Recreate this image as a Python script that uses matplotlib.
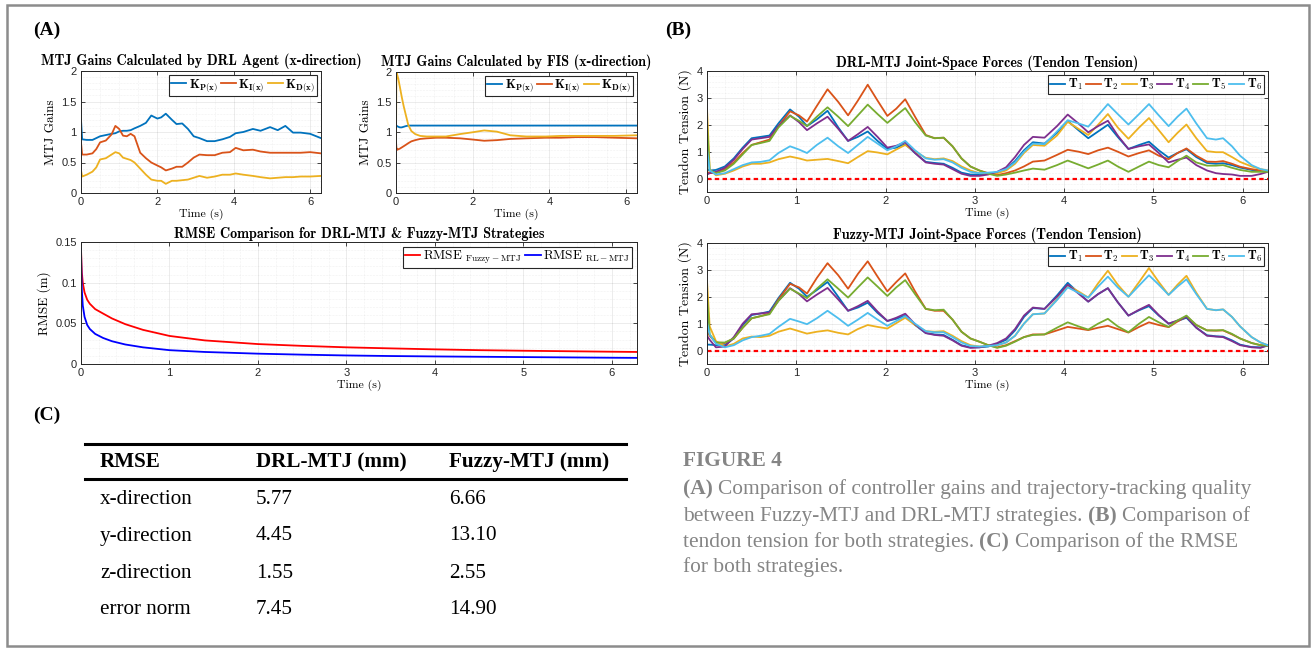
import numpy as np
import matplotlib
matplotlib.use("Agg")
import matplotlib.pyplot as plt
from matplotlib.ticker import MultipleLocator

plt.rcParams['font.family'] = ['Liberation Sans', 'DejaVu Sans']
plt.rcParams['mathtext.fontset'] = 'cm'

# ---------------- data ----------------
# (A) gains, DRL agent
t_gain_drl = [0, 0.03, 0.15, 0.3, 0.4, 0.5, 0.65, 0.8, 0.9, 1.0,
              1.1, 1.2, 1.3, 1.4, 1.55, 1.7, 1.84, 2.0, 2.1, 2.22,
              2.38, 2.5, 2.65, 2.8, 2.95, 3.1, 3.3, 3.5, 3.7, 3.9,
              4.05, 4.25, 4.5, 4.7, 4.95, 5.15, 5.35, 5.55, 5.75, 6.0, 6.28]
kp_drl = [1.2, 0.88, 0.87, 0.87, 0.9, 0.93, 0.95, 0.97, 0.98, 1.01,
          1.02, 1.02, 1.03, 1.06, 1.1, 1.15, 1.27, 1.22, 1.24, 1.3,
          1.2, 1.13, 1.14, 1.05, 0.93, 0.9, 0.85, 0.85, 0.88, 0.92,
          0.98, 1.0, 1.05, 1.02, 1.08, 1.03, 1.1, 0.99, 0.99, 0.97, 0.9]
ki_drl = [0.83, 0.63, 0.63, 0.65, 0.72, 0.83, 0.86, 0.96, 1.1, 1.05,
          0.94, 0.93, 0.97, 0.93, 0.66, 0.57, 0.5, 0.45, 0.42, 0.37,
          0.4, 0.43, 0.43, 0.5, 0.58, 0.63, 0.62, 0.62, 0.66, 0.67,
          0.74, 0.7, 0.71, 0.68, 0.66, 0.66, 0.66, 0.66, 0.66, 0.67, 0.65]
kd_drl = [0.37, 0.27, 0.3, 0.35, 0.42, 0.55, 0.57, 0.63, 0.67, 0.65,
          0.58, 0.56, 0.54, 0.5, 0.4, 0.3, 0.22, 0.2, 0.2, 0.15,
          0.2, 0.2, 0.21, 0.22, 0.25, 0.28, 0.25, 0.27, 0.3, 0.3,
          0.32, 0.3, 0.28, 0.26, 0.24, 0.25, 0.26, 0.26, 0.27, 0.27, 0.28]

# (A) gains, FIS
t_gain_fis = [0, 0.01, 0.03, 0.06, 0.1, 0.15, 0.2, 0.25, 0.32, 0.4,
              0.5, 0.63, 0.8, 1.05, 1.3, 1.67, 2.0, 2.3, 2.63, 2.98,
              3.4, 3.9, 4.3, 4.7, 5.2, 5.7, 6.28]
kp_fis = [1.12, 1.11, 1.1, 1.09, 1.08, 1.08, 1.09, 1.1, 1.11, 1.11,
          1.11, 1.11, 1.11, 1.11, 1.11, 1.11, 1.11, 1.11, 1.11, 1.11,
          1.11, 1.11, 1.11, 1.11, 1.11, 1.11, 1.11]
ki_fis = [0.85, 0.75, 0.71, 0.72, 0.73, 0.75, 0.77, 0.79, 0.82, 0.85,
          0.87, 0.89, 0.9, 0.91, 0.91, 0.9, 0.88, 0.86, 0.87, 0.89,
          0.9, 0.91, 0.91, 0.92, 0.92, 0.91, 0.9]
kd_fis = [0.85, 1.98, 1.95, 1.88, 1.75, 1.58, 1.43, 1.3, 1.12, 1.02,
          0.97, 0.94, 0.93, 0.93, 0.93, 0.97, 1.0, 1.03, 1.01, 0.95,
          0.93, 0.93, 0.94, 0.94, 0.94, 0.94, 0.95]

# (A) RMSE
t_rmse = [0, 0.005, 0.01, 0.02, 0.04, 0.07, 0.1, 0.16, 0.25, 0.35,
          0.5, 0.7, 1.0, 1.4, 2.0, 2.5, 3.0, 3.5, 4.0, 4.5,
          5.0, 5.5, 6.0, 6.28]
rmse_fuzzy = [0.142, 0.125, 0.112, 0.1, 0.088, 0.079, 0.074, 0.0675, 0.062, 0.056,
              0.049, 0.042, 0.0345, 0.029, 0.0245, 0.0223, 0.0205, 0.0192, 0.018, 0.017,
              0.0163, 0.0157, 0.0151, 0.0148]
rmse_rl = [0.142, 0.11, 0.09, 0.072, 0.058, 0.048, 0.043, 0.037, 0.032, 0.028,
           0.024, 0.0205, 0.017, 0.0148, 0.0127, 0.0115, 0.0105, 0.0098, 0.0093, 0.0089,
           0.0085, 0.0081, 0.0077, 0.0075]

# (B) tendon tensions
t_force = [0, 0.03, 0.1, 0.2, 0.3, 0.4, 0.5, 0.6, 0.7, 0.8,
           0.93, 1.03, 1.12, 1.23, 1.35, 1.47, 1.58, 1.69, 1.8, 1.91,
           2.02, 2.12, 2.22, 2.33, 2.45, 2.55, 2.65, 2.75, 2.85, 2.95,
           3.05, 3.15, 3.25, 3.35, 3.45, 3.55, 3.65, 3.78, 3.92, 4.04,
           4.16, 4.27, 4.38, 4.49, 4.6, 4.72, 4.84, 4.95, 5.06, 5.17,
           5.27, 5.37, 5.48, 5.6, 5.7, 5.78, 5.88, 5.97, 6.1, 6.2, 6.28]

drl_T1 = [0.35, 0.3, 0.32, 0.45, 0.75, 1.15, 1.5, 1.55, 1.6, 2.05,
          2.57, 2.3, 1.95, 2.2, 2.52, 1.9, 1.4, 1.55, 1.75, 1.4,
          1.1, 1.15, 1.28, 0.95, 0.62, 0.58, 0.55, 0.4, 0.22, 0.15,
          0.15, 0.18, 0.22, 0.35, 0.65, 1.05, 1.35, 1.3, 1.7, 2.14,
          1.8, 1.5, 1.75, 2.0, 1.55, 1.1, 1.25, 1.37, 1.05, 0.78,
          0.95, 1.09, 0.8, 0.58, 0.55, 0.57, 0.5, 0.41, 0.32, 0.28, 0.28]
drl_T2 = [0.25, 0.2, 0.22, 0.35, 0.6, 0.95, 1.25, 1.35, 1.45, 1.95,
          2.5, 2.35, 2.12, 2.7, 3.32, 2.85, 2.35, 2.9, 3.49, 2.9,
          2.33, 2.6, 2.95, 2.3, 1.62, 1.5, 1.52, 1.2, 0.75, 0.45,
          0.3, 0.2, 0.13, 0.2, 0.3, 0.45, 0.63, 0.67, 0.88, 1.07,
          1.0, 0.91, 1.05, 1.15, 1.0, 0.82, 0.95, 1.05, 0.85, 0.72,
          0.95, 1.12, 0.85, 0.63, 0.62, 0.65, 0.55, 0.44, 0.35, 0.3, 0.28]
drl_T3 = [2.6, 0.35, 0.12, 0.18, 0.3, 0.45, 0.55, 0.55, 0.6, 0.72,
          0.82, 0.75, 0.67, 0.7, 0.73, 0.65, 0.57, 0.8, 1.02, 0.97,
          0.9, 1.08, 1.25, 1.0, 0.77, 0.72, 0.75, 0.65, 0.45, 0.3,
          0.2, 0.18, 0.2, 0.3, 0.55, 0.95, 1.25, 1.22, 1.6, 2.11,
          1.85, 1.62, 2.0, 2.4, 1.9, 1.48, 1.9, 2.25, 1.8, 1.35,
          1.7, 2.01, 1.5, 1.02, 0.98, 0.98, 0.8, 0.62, 0.45, 0.35, 0.3]
drl_T4 = [0.15, 0.2, 0.25, 0.4, 0.7, 1.1, 1.45, 1.5, 1.55, 1.95,
          2.35, 2.1, 1.8, 2.05, 2.3, 1.85, 1.4, 1.65, 1.92, 1.55,
          1.15, 1.22, 1.35, 0.95, 0.6, 0.55, 0.52, 0.35, 0.18, 0.1,
          0.1, 0.15, 0.25, 0.42, 0.8, 1.25, 1.55, 1.52, 1.95, 2.38,
          2.05, 1.72, 1.95, 2.15, 1.6, 1.1, 1.2, 1.27, 0.95, 0.6,
          0.7, 0.78, 0.5, 0.3, 0.2, 0.17, 0.15, 0.1, 0.1, 0.17, 0.25]
drl_T5 = [2.05, 0.3, 0.2, 0.3, 0.55, 0.9, 1.25, 1.32, 1.4, 1.9,
          2.33, 2.15, 1.95, 2.3, 2.65, 2.3, 1.95, 2.35, 2.75, 2.4,
          2.07, 2.35, 2.62, 2.1, 1.6, 1.5, 1.52, 1.2, 0.75, 0.45,
          0.3, 0.18, 0.1, 0.15, 0.22, 0.3, 0.37, 0.33, 0.5, 0.67,
          0.52, 0.38, 0.52, 0.67, 0.45, 0.25, 0.45, 0.63, 0.5, 0.42,
          0.65, 0.85, 0.6, 0.48, 0.48, 0.5, 0.4, 0.32, 0.25, 0.25, 0.25]
drl_T6 = [1.1, 0.3, 0.15, 0.2, 0.35, 0.5, 0.6, 0.62, 0.68, 0.95,
          1.2, 1.08, 0.95, 1.25, 1.52, 1.2, 0.95, 1.25, 1.55, 1.3,
          1.05, 1.2, 1.4, 1.05, 0.75, 0.7, 0.72, 0.6, 0.4, 0.25,
          0.2, 0.22, 0.25, 0.35, 0.6, 1.0, 1.3, 1.28, 1.75, 2.17,
          2.05, 1.93, 2.35, 2.77, 2.4, 2.01, 2.4, 2.77, 2.35, 1.95,
          2.3, 2.6, 2.05, 1.5, 1.45, 1.5, 1.2, 0.85, 0.5, 0.35, 0.3]

fuzzy_T1 = [0.22, 0.22, 0.2, 0.2, 0.45, 0.95, 1.32, 1.38, 1.45, 1.95,
            2.52, 2.3, 2.0, 2.25, 2.55, 2.0, 1.48, 1.6, 1.78, 1.4,
            1.1, 1.18, 1.3, 0.95, 0.65, 0.6, 0.58, 0.4, 0.2, 0.12,
            0.12, 0.15, 0.25, 0.4, 0.75, 1.25, 1.58, 1.55, 2.05, 2.52,
            2.15, 1.82, 2.1, 2.32, 1.8, 1.3, 1.5, 1.65, 1.3, 1.0,
            1.1, 1.22, 0.85, 0.57, 0.53, 0.52, 0.38, 0.22, 0.13, 0.12, 0.18]
fuzzy_T2 = [0.7, 0.55, 0.3, 0.28, 0.45, 0.85, 1.2, 1.28, 1.38, 1.9,
            2.48, 2.35, 2.12, 2.7, 3.25, 2.8, 2.3, 2.85, 3.32, 2.75,
            2.2, 2.55, 2.87, 2.2, 1.55, 1.48, 1.48, 1.15, 0.7, 0.45,
            0.33, 0.2, 0.12, 0.2, 0.35, 0.5, 0.6, 0.6, 0.75, 0.88,
            0.82, 0.76, 0.85, 0.92, 0.8, 0.67, 0.88, 1.05, 0.95, 0.87,
            1.08, 1.27, 0.95, 0.75, 0.74, 0.75, 0.6, 0.45, 0.28, 0.2, 0.18]
fuzzy_T3 = [2.6, 0.9, 0.35, 0.15, 0.25, 0.45, 0.52, 0.5, 0.55, 0.7,
            0.82, 0.72, 0.63, 0.7, 0.75, 0.66, 0.6, 0.8, 0.95, 0.88,
            0.82, 1.02, 1.22, 0.95, 0.72, 0.7, 0.72, 0.55, 0.35, 0.2,
            0.15, 0.17, 0.2, 0.3, 0.55, 1.0, 1.35, 1.38, 1.9, 2.42,
            2.2, 1.97, 2.5, 2.97, 2.45, 2.0, 2.55, 3.07, 2.55, 2.07,
            2.45, 2.78, 2.15, 1.55, 1.5, 1.53, 1.25, 0.9, 0.5, 0.3, 0.2]
fuzzy_T4 = [0.55, 0.4, 0.12, 0.15, 0.5, 1.0, 1.35, 1.38, 1.42, 1.85,
            2.32, 2.1, 1.83, 2.08, 2.33, 1.9, 1.48, 1.65, 1.85, 1.45,
            1.1, 1.22, 1.37, 0.98, 0.65, 0.58, 0.55, 0.38, 0.18, 0.1,
            0.12, 0.18, 0.28, 0.45, 0.8, 1.3, 1.6, 1.55, 2.0, 2.45,
            2.12, 1.82, 2.1, 2.32, 1.8, 1.3, 1.52, 1.7, 1.32, 1.0,
            1.12, 1.25, 0.85, 0.55, 0.52, 0.5, 0.35, 0.2, 0.12, 0.1, 0.2]
fuzzy_T5 = [2.05, 0.6, 0.3, 0.3, 0.45, 0.85, 1.2, 1.28, 1.35, 1.85,
            2.3, 2.12, 1.95, 2.3, 2.65, 2.3, 1.97, 2.35, 2.72, 2.38,
            2.03, 2.35, 2.62, 2.1, 1.55, 1.5, 1.52, 1.15, 0.7, 0.45,
            0.33, 0.2, 0.1, 0.18, 0.33, 0.5, 0.58, 0.6, 0.85, 1.05,
            0.9, 0.78, 1.0, 1.18, 0.9, 0.68, 1.0, 1.25, 1.05, 0.88,
            1.12, 1.3, 0.95, 0.75, 0.75, 0.76, 0.62, 0.45, 0.28, 0.2, 0.18]
fuzzy_T6 = [1.05, 0.6, 0.25, 0.12, 0.2, 0.38, 0.5, 0.55, 0.62, 0.88,
            1.18, 1.08, 0.98, 1.2, 1.48, 1.2, 0.92, 1.15, 1.4, 1.15,
            0.92, 1.1, 1.28, 1.0, 0.72, 0.68, 0.68, 0.5, 0.3, 0.17,
            0.15, 0.17, 0.2, 0.3, 0.55, 1.0, 1.35, 1.38, 1.88, 2.35,
            2.15, 1.97, 2.38, 2.75, 2.35, 2.0, 2.42, 2.8, 2.45, 2.07,
            2.38, 2.65, 2.1, 1.55, 1.5, 1.53, 1.25, 0.9, 0.5, 0.3, 0.2]

# (C) table
table_header = ["RMSE", "DRL-MTJ (mm)", "Fuzzy-MTJ (mm)"]
table_rows = ["x-direction", "y-direction", "z-direction", "error norm"]
table_drl = ["5.77", "4.45", "1.55", "7.45"]
table_fuzzy = ["6.66", "13.10", "2.55", "14.90"]

# ---------------- style ----------------
mat = ['#0072BD', '#D95319', '#EDB120', '#7E2F8E', '#77AC30', '#4DBEEE']
W, H = 1315, 651
fig = plt.figure(figsize=(W / 100, H / 100), dpi=100)

TITLE_FONT = 'cmb10'
LABEL_FONT = 'cmr10'


def px_axes(l, t, r, b):
    return fig.add_axes([l / W, 1 - b / H, (r - l) / W, (b - t) / H])


def matlab_style(ax):
    for s in ax.spines.values():
        s.set_color('#262626')
        s.set_linewidth(0.7)
    ax.tick_params(which='both', direction='in', top=True, right=True,
                   labelsize=8, colors='#262626', length=3, width=0.6, pad=3)
    ax.tick_params(which='minor', length=0)
    ax.grid(True, which='major', color='#262626', alpha=0.12, lw=0.5)
    ax.grid(True, which='minor', color='#262626', alpha=0.12, lw=0.4, ls=':')
    ax.set_axisbelow(True)
    ax.set_xlim(0, 2 * np.pi)
    ax.xaxis.set_major_formatter('{x:g}')
    ax.yaxis.set_major_formatter('{x:g}')


def titles(ax, title, ylabel, pad=4, yfs=9.5):
    ax.set_title(title, fontfamily=TITLE_FONT, fontsize=10.2, pad=pad)
    ax.set_xlabel('Time (s)', fontfamily=LABEL_FONT, fontsize=8.5, labelpad=1)
    ax.set_ylabel(ylabel, fontfamily=LABEL_FONT, fontsize=yfs, labelpad=3)


def legend(ax, ncol, fs=9):
    lg = ax.legend(loc='upper right', ncol=ncol, fontsize=fs, frameon=True,
                   fancybox=False, edgecolor='#262626', framealpha=1,
                   handlelength=1.2, handletextpad=0.2, columnspacing=0.25,
                   borderpad=0.15, borderaxespad=0.35)
    lg.get_frame().set_linewidth(0.8)


gain_labels = [r'$\mathbf{K_{P(x)}}$', r'$\mathbf{K_{I(x)}}$', r'$\mathbf{K_{D(x)}}$']

# A1
ax = px_axes(81, 71, 321, 193)
matlab_style(ax)
for y, c, lab in zip([kp_drl, ki_drl, kd_drl], mat[:3], gain_labels):
    ax.plot(t_gain_drl, y, color=c, lw=1.3, label=lab)
ax.set_ylim(0, 2)
ax.xaxis.set_major_locator(MultipleLocator(2))
ax.xaxis.set_minor_locator(MultipleLocator(0.5))
ax.yaxis.set_major_locator(MultipleLocator(0.5))
ax.yaxis.set_minor_locator(MultipleLocator(0.1))
titles(ax, 'MTJ Gains Calculated by DRL Agent (x-direction)', 'MTJ Gains')
legend(ax, 3)

# A2
ax = px_axes(396, 71.5, 637, 193)
matlab_style(ax)
for y, c, lab in zip([kp_fis, ki_fis, kd_fis], mat[:3], gain_labels):
    ax.plot(t_gain_fis, y, color=c, lw=1.3, label=lab)
ax.set_ylim(0, 2)
ax.xaxis.set_major_locator(MultipleLocator(2))
ax.xaxis.set_minor_locator(MultipleLocator(0.5))
ax.yaxis.set_major_locator(MultipleLocator(0.5))
ax.yaxis.set_minor_locator(MultipleLocator(0.1))
titles(ax, 'MTJ Gains Calculated by FIS (x-direction)', 'MTJ Gains')
legend(ax, 3)

# A3
ax = px_axes(81, 242, 637, 364)
matlab_style(ax)
ax.plot(t_rmse, rmse_fuzzy, color='#FF0000', lw=1.3,
        label=r'$\mathrm{RMSE}\ _{\mathrm{Fuzzy-MTJ}}$')
ax.plot(t_rmse, rmse_rl, color='#0000FF', lw=1.3,
        label=r'$\mathrm{RMSE}\ _{\mathrm{RL-MTJ}}$')
ax.set_ylim(0, 0.15)
ax.xaxis.set_major_locator(MultipleLocator(1))
ax.xaxis.set_minor_locator(MultipleLocator(0.2))
ax.yaxis.set_major_locator(MultipleLocator(0.05))
ax.yaxis.set_minor_locator(MultipleLocator(0.01))
titles(ax, 'RMSE Comparison for DRL-MTJ & Fuzzy-MTJ Strategies', 'RMSE (m)', pad=3)
legend(ax, 2, fs=9.5)

# B1, B2
t_labels = [r'$\mathbf{T_%d}$' % i for i in range(1, 7)]
for (top, bot), series, ttl in [((71, 192), [drl_T1, drl_T2, drl_T3, drl_T4, drl_T5, drl_T6],
                                 'DRL-MTJ Joint-Space Forces (Tendon Tension)'),
                                ((243, 364), [fuzzy_T1, fuzzy_T2, fuzzy_T3, fuzzy_T4, fuzzy_T5, fuzzy_T6],
                                 'Fuzzy-MTJ Joint-Space Forces (Tendon Tension)')]:
    ax = px_axes(707, top, 1268, bot)
    matlab_style(ax)
    for y, c, lab in zip(series, mat, t_labels):
        ax.plot(t_force, y, color=c, lw=1.3, label=lab, solid_joinstyle='round')
    ax.axhline(0, color='#FF0000', lw=1.6, dashes=(2, 1.5))
    ax.set_ylim(-0.5, 4)
    ax.set_yticks([0, 1, 2, 3, 4])
    ax.xaxis.set_major_locator(MultipleLocator(1))
    ax.xaxis.set_minor_locator(MultipleLocator(0.2))
    ax.yaxis.set_minor_locator(MultipleLocator(0.2))
    titles(ax, ttl, 'Tendon Tension (N)', pad=3, yfs=10)
    legend(ax, 6)

# panel letters
for x, y, s in [(33, 30, '(A)'), (665, 30, '(B)'), (33, 415, '(C)')]:
    fig.text(x / W, 1 - y / H, s, fontfamily='Liberation Serif', fontweight='bold',
             fontsize=14, va='center', ha='left')

# (C) table
serif = 'Liberation Serif'
fig.add_artist(plt.Line2D([85 / W, 626 / W], [1 - 444 / H] * 2, color='black', lw=2.2))
fig.add_artist(plt.Line2D([85 / W, 626 / W], [1 - 479 / H] * 2, color='black', lw=2.2))
col_x = [100, 256, 449]
for x, s in zip(col_x, table_header):
    fig.text(x / W, 1 - 462 / H, s, fontfamily=serif, fontweight='bold',
             fontsize=15.2, va='center', ha='left')
row_y = [499, 536, 573, 610]
for y, a, b, c in zip(row_y, table_rows, table_drl, table_fuzzy):
    for x, s in zip(col_x, [a, b, c]):
        fig.text(x / W, 1 - y / H, s, fontfamily=serif, fontsize=15.2,
                 va='center', ha='left')

# caption
cap_col = '#858585'
cap_fs = 15.4
fig.text(683 / W, 1 - 461 / H, 'FIGURE 4', fontfamily=serif, fontweight='bold',
         fontsize=cap_fs, color=cap_col, va='center', ha='left')
cap_lines = [
    [('(A)', 'bold'), ('Comparison of controller gains and trajectory-tracking quality', 'normal')],
    [('between Fuzzy-MTJ and DRL-MTJ strategies.', 'normal'), ('(B)', 'bold'), ('Comparison of', 'normal')],
    [('tendon tension for both strategies.', 'normal'), ('(C)', 'bold'), ('Comparison of the RMSE', 'normal')],
    [('for both strategies.', 'normal')],
]
renderer = fig.canvas.get_renderer()
space = 0.25 * cap_fs * 100 / 72
for y, parts in zip([489, 516, 542, 567], cap_lines):
    x = 683
    for s, w in parts:
        t = fig.text(x / W, 1 - y / H, s, fontfamily=serif, fontweight=w,
                     fontsize=cap_fs, color=cap_col, va='center', ha='left')
        bb = t.get_window_extent(renderer)
        x = bb.x1 + space

# outer frame
fig.add_artist(plt.Rectangle((7 / W, 1 - 646 / H), (1309 - 7) / W, (646 - 5) / H,
                             fill=False, edgecolor='#8c8c8c', lw=1.8))

fig.savefig('out.png', dpi=100)
